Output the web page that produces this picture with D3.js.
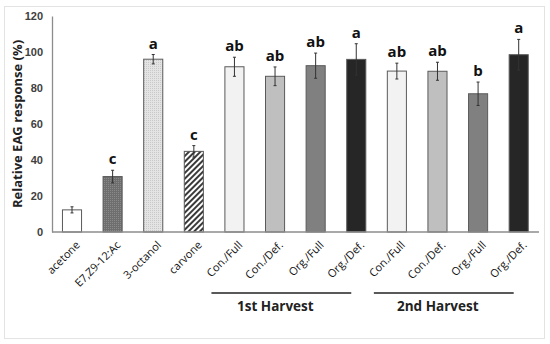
<!DOCTYPE html>
<html><head><meta charset="utf-8">
<script src="https://cdn.jsdelivr.net/npm/d3@7"></script>
<style>body{margin:0;background:#fff;} svg{display:block;font-family:"Open Sans",Calibri,sans-serif;}</style>
</head><body><div id="chart"></div>
<script>
const categories = ["acetone","E7,Z9-12:Ac","3-octanol","carvone","Con./Full","Con./Def.","Org./Full","Org./Def.","Con./Full","Con./Def.","Org./Full","Org./Def."];
const values = [12.3, 30.8, 96, 44.8, 91.8, 86.5, 92.4, 95.9, 89.4, 89.3, 76.8, 98.5];
const errors = [1.7, 3.5, 2.6, 3.2, 5.3, 5.2, 7, 8.7, 4.4, 5, 6.5, 8.5];
const letters = ["", "c", "a", "c", "ab", "ab", "ab", "a", "ab", "ab", "b", "a"];
const fills = ["#ffffff","url(#dotDark)","url(#dotLight)","url(#hatch)","#f2f2f2","#bfbfbf","#808080","#262626","#f2f2f2","#bfbfbf","#808080","#262626"];
const yTicks = [0,20,40,60,80,100,120];
const groups = [{label:"1st Harvest", from:4, to:7}, {label:"2nd Harvest", from:8, to:11}];

const W=550,H=344;
const svg=d3.select("#chart").append("svg").attr("width",W).attr("height",H);
const defs=svg.append("defs");
const pd=defs.append("pattern").attr("id","dotDark").attr("patternUnits","userSpaceOnUse").attr("width",2).attr("height",2);
pd.append("rect").attr("width",2).attr("height",2).attr("fill","#6e6e6e");
pd.append("rect").attr("width",1).attr("height",1).attr("fill","#8a8a8a");
const pl=defs.append("pattern").attr("id","dotLight").attr("patternUnits","userSpaceOnUse").attr("width",2).attr("height",2);
pl.append("rect").attr("width",2).attr("height",2).attr("fill","#e4e4e4");
pl.append("rect").attr("width",1).attr("height",1).attr("fill","#c8c8c8");
const ph=defs.append("pattern").attr("id","hatch").attr("patternUnits","userSpaceOnUse").attr("width",4).attr("height",4).attr("patternTransform","rotate(45)");
ph.append("rect").attr("width",4).attr("height",4).attr("fill","#ffffff");
ph.append("rect").attr("width",2).attr("height",4).attr("fill","#3a3a3a");

svg.append("rect").attr("x",4.5).attr("y",6.5).attr("width",540).attr("height",332).attr("fill","#fff").attr("stroke","#e3e3e3");

const x=d3.scaleBand().domain(d3.range(categories.length)).range([51.7,539]).paddingInner(0.53).paddingOuter(0.265);
const y=d3.scaleLinear().domain([0,120]).range([232,16]);

const yAxis=svg.append("g").attr("transform","translate(52,0)").call(d3.axisLeft(y).tickValues(yTicks).tickSize(0).tickPadding(9));
yAxis.select(".domain").attr("stroke","#8c8c8c").attr("stroke-width",1.3);
yAxis.selectAll("text").attr("font-size",11).attr("font-weight","bold").attr("fill","#404040");

const bw=x.bandwidth();
svg.append("g").selectAll("rect").data(values).join("rect")
  .attr("x",(d,i)=>x(i)).attr("y",d=>y(d)).attr("width",bw).attr("height",d=>y(0)-y(d))
  .attr("fill",(d,i)=>fills[i]).attr("stroke","#5a5a5a").attr("stroke-width",1);

const eb=svg.append("g").attr("stroke","#333").attr("stroke-width",1);
values.forEach((v,i)=>{
  const cx=x(i)+bw/2;
  eb.append("line").attr("x1",cx).attr("x2",cx).attr("y1",y(v+errors[i])).attr("y2",y(v-errors[i]));
  eb.append("line").attr("x1",cx-1.5).attr("x2",cx+1.5).attr("y1",y(v+errors[i])).attr("y2",y(v+errors[i]));
  eb.append("line").attr("x1",cx-1.5).attr("x2",cx+1.5).attr("y1",y(v-errors[i])).attr("y2",y(v-errors[i]));
});

svg.append("g").selectAll("text").data(letters).join("text")
  .attr("x",(d,i)=>x(i)+bw/2).attr("y",(d,i)=>y(values[i]+errors[i])-6)
  .attr("text-anchor","middle").attr("font-size",15).attr("font-weight","bold").attr("fill","#111").text(d=>d);

const xAxis=svg.append("g").attr("transform","translate(0,232)").call(d3.axisBottom(x).tickSize(0).tickFormat(""));
xAxis.select(".domain").attr("stroke","#8c8c8c").attr("stroke-width",1.3).attr("d","M52,0H539");

const labG=svg.append("g");
categories.forEach((c,i)=>{
  labG.append("g").attr("transform",`translate(${x(i)+bw/2+6},243) rotate(-45)`)
    .append("text").attr("x",0).attr("y",0).attr("dy","0.35em").attr("text-anchor","end")
    .attr("font-size",11).attr("fill","#111").text(c);
});

groups.forEach(g=>{
  const x1=x(g.from)+bw/2-23, x2=x(g.to)+bw/2-5;
  svg.append("line").attr("x1",x1).attr("x2",x2).attr("y1",293).attr("y2",293).attr("stroke","#222").attr("stroke-width",1.5);
  svg.append("text").attr("x",(x1+x2)/2-6).attr("y",311).attr("text-anchor","middle")
    .attr("font-size",13.5).attr("font-weight","bold").attr("fill","#222").text(g.label);
});

svg.append("text").attr("transform","translate(22,124) rotate(-90)").attr("text-anchor","middle")
  .attr("font-size",13).attr("font-weight","bold").attr("fill","#222").text("Relative EAG response (%)");
</script></body></html>
